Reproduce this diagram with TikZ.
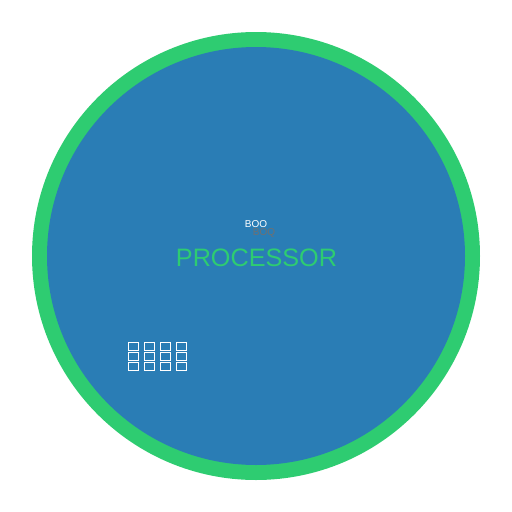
\documentclass[tikz,border=0pt]{standalone}
\usepackage{fontspec}
\setmainfont{Liberation Sans}
\definecolor{ringgreen}{HTML}{2ECC71}
\definecolor{coreblue}{HTML}{2A7DB5}
\definecolor{labelgrey}{HTML}{707070}
\begin{document}
\begin{tikzpicture}[x=1pt,y=-1pt,
  cell/.style={draw=white,line width=1pt,minimum width=10pt,minimum height=8pt,inner sep=0pt,anchor=north west},
  txt/.style={inner sep=0pt}]
\useasboundingbox (0,0) rectangle (512,512);
\fill[ringgreen] (256,256) circle (224);
\fill[coreblue] (256,256) circle (209);
\node[txt,text=white,font=\fontsize{10}{11}\selectfont] (boo) at (256,224.5) {BOO};
\node[txt,text=labelgrey,font=\fontsize{10}{11}\selectfont] (boq) at (264,233) {BOQ};
\node[txt,text=ringgreen,font=\fontsize{25.2}{28}\selectfont] (proc) at (256.5,258) {PROCESSOR};
\foreach \r [count=\i] in {342,352,362}{
  \foreach \c [count=\j] in {128,144,160,176}{
    \node[cell] (c\i\j) at (\c,\r) {};
  }
}
\end{tikzpicture}
\end{document}
